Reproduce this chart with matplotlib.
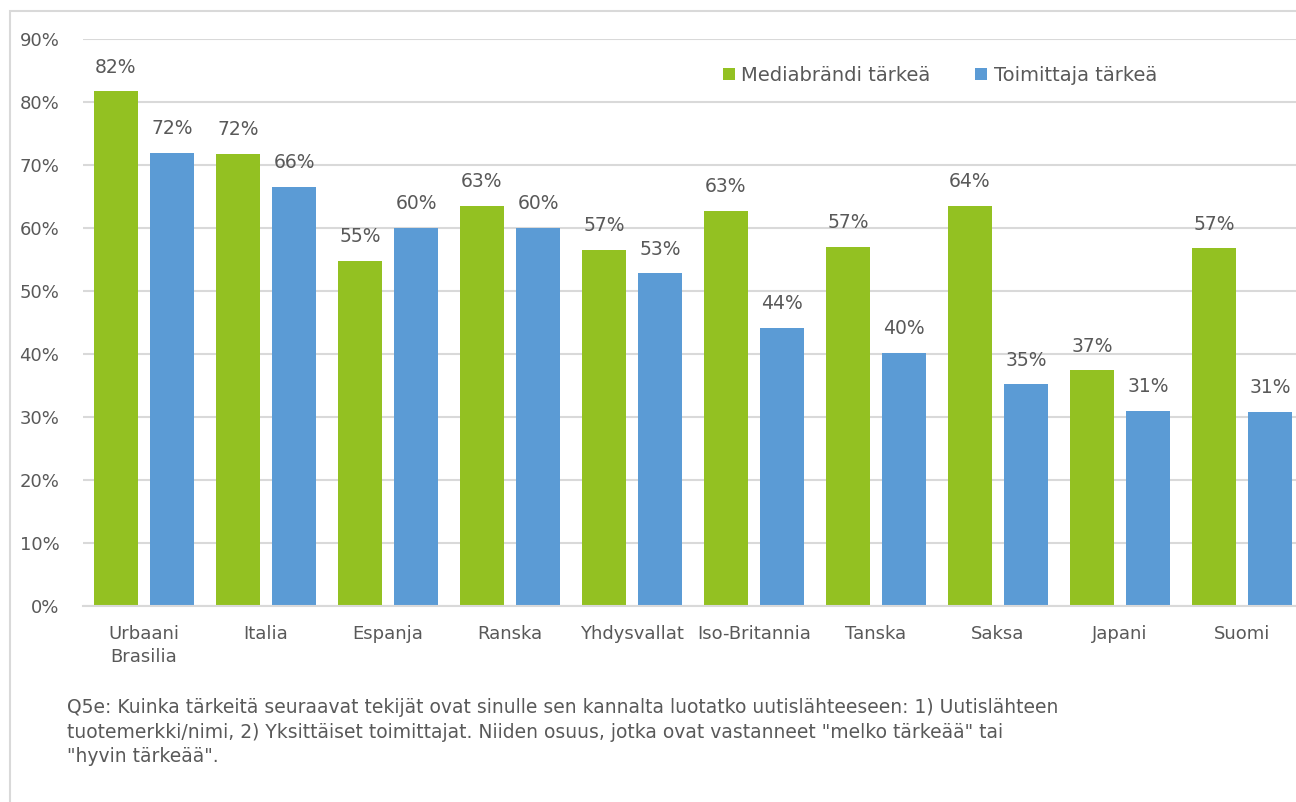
import numpy as np
import matplotlib.pyplot as plt
from matplotlib.patches import Rectangle

plt.rcParams['font.family'] = ['DejaVu Sans']

# data
countries = ["Urbaani\nBrasilia", "Italia", "Espanja", "Ranska", "Yhdysvallat",
             "Iso-Britannia", "Tanska", "Saksa", "Japani", "Suomi"]
brand = [81.7, 71.8, 54.8, 63.5, 56.5, 62.7, 57.0, 63.5, 37.4, 56.8]
journalist = [71.9, 66.5, 60.0, 60.0, 52.8, 44.2, 40.2, 35.2, 31.0, 30.8]
brand_labels = ["82%", "72%", "55%", "63%", "57%", "63%", "57%", "64%", "37%", "57%"]
journalist_labels = ["72%", "66%", "60%", "60%", "53%", "44%", "40%", "35%", "31%", "31%"]
series_names = ["Mediabrändi tärkeä", "Toimittaja tärkeä"]
footnote = ('Q5e: Kuinka tärkeitä seuraavat tekijät ovat sinulle sen kannalta luotatko uutislähteeseen: 1) Uutislähteen\n'
            'tuotemerkki/nimi, 2) Yksittäiset toimittajat. Niiden osuus, jotka ovat vastanneet "melko tärkeää" tai\n'
            '"hyvin tärkeää".')

green = "#93C122"
blue = "#5B9BD5"
grey_text = "#595959"
grid_col = "#D9D9D9"

W, H = 1296, 802
fig = plt.figure(figsize=(W / 100, H / 100), dpi=100)

# light frame around the chart area
fig.patches.append(Rectangle((10 / W, -0.1), 1.2, (H - 11) / H + 0.1, transform=fig.transFigure,
                             fill=False, edgecolor="#D9D9D9", linewidth=1.5))

# axes: left 83 px, bottom 0% at y=606, 90% at y=39; 10 categories x 122 px wide
ax = fig.add_axes([83 / W, (H - 606) / H, 1220 / W, (606 - 39) / H])

x = np.arange(len(countries))
bw = 0.36
off = 0.23
b1 = ax.bar(x - off, brand, bw, color=green, label=series_names[0])
b2 = ax.bar(x + off, journalist, bw, color=blue, label=series_names[1])

for rects, labs in ((b1, brand_labels), (b2, journalist_labels)):
    for r, lab in zip(rects, labs):
        ax.annotate(lab, (r.get_x() + r.get_width() / 2, r.get_height()),
                    xytext=(0, 10.5), textcoords="offset points",
                    ha="center", va="bottom", fontsize=13.5, color=grey_text)

ax.set_xlim(-0.5, len(countries) - 0.5)
ax.set_ylim(0, 90)
ax.set_yticks(np.arange(0, 91, 10))
ax.set_yticklabels([f"{v}%" for v in range(0, 91, 10)])
ax.set_xticks(x)
ax.set_xticklabels(countries, linespacing=1.3)
ax.tick_params(axis="both", length=0, labelsize=13, labelcolor=grey_text)
ax.tick_params(axis="y", pad=17)
ax.tick_params(axis="x", pad=14)
ax.grid(axis="y", color=grid_col, linewidth=1.5)
ax.set_axisbelow(True)
for s in ["top", "right", "left"]:
    ax.spines[s].set_visible(False)
ax.spines["bottom"].set_color(grid_col)
ax.spines["bottom"].set_linewidth(1.5)

leg = ax.legend(loc="upper left", bbox_to_anchor=(723 / W, 1 - 66 / H), bbox_transform=fig.transFigure,
                ncol=2, frameon=False, fontsize=14, handlelength=0.6, handleheight=0.6,
                handletextpad=0.35, columnspacing=2.3, labelcolor=grey_text,
                borderpad=0, borderaxespad=0)

fig.text(67 / W, 1 - 698 / H, footnote, fontsize=13.5, color=grey_text, va="top", ha="left",
         linespacing=1.38)

fig.savefig("out.png", dpi=100)
